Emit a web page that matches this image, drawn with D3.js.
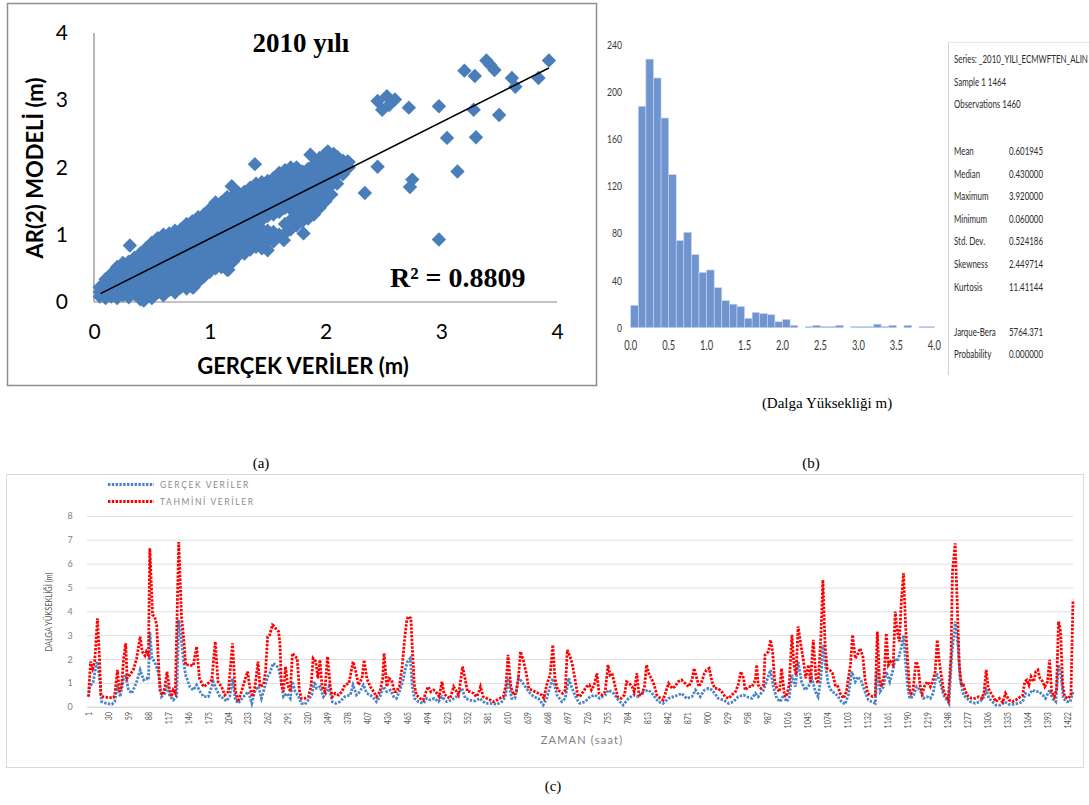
<!DOCTYPE html>
<html>
<head>
<meta charset="utf-8">
<script src="https://cdn.jsdelivr.net/npm/d3@7"></script>
<style>
  body { margin: 0; background: #ffffff; }
  svg { display: block; }
</style>
</head>
<body>
<svg id="fig" width="1089" height="805"></svg>
<script>
// ---------------- (a) scatter: observed vs AR(2) model ----------------
const scatterTicks = [0, 1, 2, 3, 4];
// dense part of the cloud, one column of model values per observed value
const cloudX = [0.05,0.1,0.15,0.2,0.25,0.3,0.35,0.4,0.45,0.5,0.55,0.6,0.65,0.7,0.75,0.8,0.85,0.9,0.95,1.0,
  1.05,1.1,1.15,1.2,1.25,1.3,1.35,1.4,1.45,1.5,1.55,1.6,1.65,1.7,1.75,1.8,1.85,1.9,1.95,2.0,2.05,2.1,2.15,2.2];
const cloudY = [
  [0.08,0.15,0.22],
  [0.06,0.15,0.25,0.34],
  [0.08,0.2,0.32,0.42],
  [0.06,0.18,0.3,0.42,0.52],
  [0.1,0.24,0.38,0.5,0.58],
  [0.07,0.2,0.34,0.47,0.6],
  [0.12,0.26,0.4,0.54,0.66],
  [0.04,0.18,0.32,0.46,0.6,0.72],
  [0.1,0.25,0.4,0.55,0.7,0.8],
  [0.06,0.2,0.34,0.48,0.62,0.76,0.88],
  [0.14,0.28,0.42,0.56,0.7,0.84,0.95],
  [0.1,0.24,0.38,0.52,0.66,0.8,0.94,1.0],
  [0.18,0.32,0.46,0.6,0.74,0.88,1.02],
  [0.14,0.28,0.42,0.56,0.7,0.84,0.98,1.06],
  [0.22,0.36,0.5,0.64,0.78,0.92,1.08],
  [0.2,0.34,0.48,0.62,0.76,0.9,1.04,1.16],
  [0.22,0.4,0.54,0.68,0.82,0.96,1.1,1.2],
  [0.3,0.44,0.58,0.72,0.86,1.0,1.14,1.26],
  [0.38,0.52,0.66,0.8,0.94,1.08,1.22,1.3],
  [0.45,0.6,0.74,0.88,1.02,1.16,1.3,1.38],
  [0.5,0.64,0.78,0.92,1.06,1.2,1.34,1.48],
  [0.52,0.68,0.82,0.96,1.1,1.24,1.38,1.48],
  [0.48,0.62,0.76,0.9,1.04,1.18,1.32,1.46,1.56],
  [0.6,0.74,0.88,1.02,1.16,1.3,1.44,1.58],
  [0.7,0.84,0.98,1.12,1.26,1.4,1.54,1.62],
  [0.72,0.86,1.0,1.14,1.28,1.42,1.56,1.64],
  [0.78,0.92,1.06,1.2,1.34,1.48,1.62,1.7],
  [0.82,0.96,1.1,1.24,1.38,1.52,1.66,1.76],
  [0.8,0.94,1.08,1.22,1.36,1.5,1.64,1.78],
  [0.92,1.06,1.28,1.42,1.56,1.7,1.8],
  [0.9,1.04,1.3,1.46,1.6,1.74,1.84],
  [1.0,1.34,1.5,1.64,1.78,1.92],
  [1.02,1.16,1.4,1.54,1.68,1.82,1.96],
  [1.08,1.22,1.38,1.52,1.66,1.8,1.94,2.0],
  [1.14,1.3,1.46,1.6,1.74,1.88,2.0],
  [1.2,1.36,1.52,1.66,1.8,1.94],
  [1.24,1.4,1.56,1.7,1.84,1.98],
  [1.3,1.46,1.62,1.76,1.9,2.04],
  [1.4,1.56,1.72,1.86,2.0,2.14],
  [1.5,1.64,1.78,1.92,2.06,2.2],
  [1.6,1.74,1.88,2.02,2.16],
  [1.76,1.9,2.04,2.14],
  [1.9,2.02,2.1],
  [2.0,2.08]
];
// scattered points outside the dense cloud
const outlierX = [3.93,3.39,3.42,3.46,3.20,3.29,3.61,3.64,3.84,2.45,2.53,2.60,2.55,2.49,2.72,2.98,3.28,3.50,3.05,3.30,
  3.14,2.45,2.75,2.73,2.34,2.98,1.39,1.87,2.02,2.07,2.10,2.19,2.00,0.31,1.19,1.81,1.64,1.50,1.16,0.86,0.43];
const outlierY = [3.59,3.59,3.53,3.45,3.44,3.36,3.33,3.20,3.33,2.99,3.06,3.01,2.93,2.86,2.89,2.91,2.86,2.78,2.44,2.45,
  1.94,2.01,1.82,1.71,1.62,0.93,2.05,2.19,2.24,2.20,2.16,2.09,1.52,0.84,1.72,1.02,0.92,0.77,0.48,0.22,0.02];
const trendSlope = 0.866, trendIntercept = 0.076, trendFrom = 0.056, trendTo = 3.93;
const r2Text = "R² = 0.8809";

// ---------------- (b) histogram ----------------
const binStart = [0.0,0.1,0.2,0.3,0.4,0.5,0.6,0.7,0.8,0.9,1.0,1.1,1.2,1.3,1.4,1.5,1.6,1.7,1.8,1.9,
  2.0,2.1,2.2,2.3,2.4,2.5,2.6,2.7,2.8,2.9,3.0,3.1,3.2,3.3,3.4,3.5,3.6,3.7,3.8,3.9];
const binCount = [19,188,228,212,178,130,74,81,62,47,49,34,23,20,18,8,13,12,11,5,
  7,2,0,1,2,1,1,2,0,1,1,1,3,1,2,0,2,0,1,1];
const histXTicks = [0.0,0.5,1.0,1.5,2.0,2.5,3.0,3.5,4.0];
const histYTicks = [0,40,80,120,160,200,240];
const statHead = ["Series: _2010_YILI_ECMWFTEN_ALIN", "Sample 1 1464", "Observations 1460"];
const statNames = ["Mean","Median","Maximum","Minimum","Std. Dev.","Skewness","Kurtosis","","Jarque-Bera","Probability"];
const statValues = ["0.601945","0.430000","3.920000","0.060000","0.524186","2.449714","11.41144","","5764.371","0.000000"];

// ---------------- (c) time series ----------------
const seriesYTicks = [0,1,2,3,4,5,6,7,8];
const hourLabels = [1,30,59,88,117,146,175,204,233,262,291,320,349,378,407,436,465,494,523,552,581,610,639,668,697,
  726,755,784,813,842,871,900,929,958,987,1016,1045,1074,1103,1132,1161,1190,1219,1248,1277,1306,1335,1364,1393,1422];
const lastHour = 1430;

const gercekSaat = [1,3,8,12,14,17,20,27,35,39,43,47,52,55,59,64,71,76,81,85,88,90,93,97,102,107,112,115,119,124,129,
  132,135,139,142,148,153,158,163,168,175,182,187,192,197,201,206,210,214,218,226,233,238,243,248,252,257,261,264,269,
  273,277,280,284,289,294,297,301,306,310,315,320,325,329,332,337,342,347,350,355,360,366,373,381,385,390,395,400,405,
  410,415,419,424,429,434,439,444,448,453,457,461,464,468,471,474,480,487,492,497,503,509,514,521,528,535,543,548,555,
  562,569,577,584,594,601,606,610,615,620,625,628,635,640,647,654,661,666,671,675,681,688,693,698,702,707,712,714,722,
  729,736,743,751,756,763,770,777,785,792,799,806,814,821,828,835,843,850,857,862,869,877,882,889,895,901,906,910,915,
  923,930,937,944,952,956,964,969,973,981,985,991,995,1000,1005,1010,1014,1018,1022,1027,1031,1036,1041,1046,1051,1056,
  1060,1064,1067,1070,1075,1080,1085,1089,1094,1099,1104,1109,1114,1118,1123,1128,1133,1138,1143,1146,1150,1155,1159,
  1164,1168,1172,1175,1178,1181,1184,1187,1190,1193,1198,1203,1208,1213,1218,1223,1227,1232,1237,1242,1247,1250,1254,
  1259,1263,1266,1271,1276,1281,1288,1295,1301,1304,1308,1313,1318,1324,1331,1337,1343,1351,1357,1361,1366,1371,1376,
  1381,1386,1390,1396,1400,1405,1409,1413,1416,1421,1426,1430];
const gercekDeger = [0.42,0.84,1.05,1.75,1.89,1.19,0.21,0.14,0.1,0.21,0.91,0.42,1.19,1.33,0.7,0.56,1.05,1.54,1.12,1.19,1.12,
  3.15,2.03,1.89,1.47,0.42,0.56,0.91,0.46,0.28,0.42,3.64,3.0,1.89,1.33,0.84,0.7,0.91,0.63,0.42,0.42,1.05,0.7,0.42,0.35,
  0.24,0.42,1.19,0.32,0.14,0.42,0.63,0.14,0.7,0.84,0.35,0.84,1.26,1.4,1.82,1.75,1.61,1.19,0.42,0.56,0.35,1.05,0.63,0.42,
  0.14,0.1,0.28,0.49,1.05,0.77,0.84,0.42,0.63,0.84,0.21,0.14,0.21,0.42,0.49,0.91,0.49,0.63,0.91,0.56,0.49,0.35,0.21,0.42,
  0.84,0.63,0.7,0.42,0.35,0.7,1.05,1.61,1.89,2.03,0.84,0.35,0.21,0.14,0.35,0.28,0.35,0.21,0.42,0.21,0.28,0.42,0.77,0.35,
  0.28,0.24,0.35,0.14,0.14,0.1,0.21,0.42,1.19,0.35,0.35,1.19,1.12,0.84,0.63,0.42,0.35,0.07,0.35,0.84,1.19,0.49,0.21,0.35,
  1.19,0.84,0.49,0.21,0.14,0.21,0.42,0.49,0.35,0.49,0.7,0.56,0.28,0.07,0.35,0.49,0.42,0.63,0.7,0.49,0.21,0.14,0.35,0.42,
  0.49,0.56,0.35,0.42,0.7,0.42,0.7,0.77,0.7,0.56,0.35,0.28,0.14,0.21,0.42,0.49,0.42,0.35,0.56,0.42,0.7,1.05,1.54,0.84,0.35,
  0.21,0.49,0.21,0.35,1.33,0.84,1.89,1.05,0.7,0.84,1.19,0.63,0.42,1.19,2.59,1.89,0.91,0.63,0.56,0.42,0.21,0.1,0.49,1.47,
  1.05,1.26,1.05,0.63,0.28,0.21,0.14,1.61,0.63,0.84,1.47,1.05,1.47,2.03,1.89,2.17,2.5,3.0,1.9,0.8,0.35,0.42,0.84,0.7,0.35,
  0.42,0.35,0.56,1.4,1.05,0.49,0.28,0.14,2.17,3.57,2.59,1.19,0.49,0.35,0.21,0.14,0.21,0.42,0.7,0.35,0.21,0.07,0.07,0.21,
  0.1,0.1,0.14,0.21,0.56,0.49,0.7,0.63,0.63,0.49,0.35,0.7,0.35,0.21,1.75,1.19,0.35,0.21,0.21,0.63];

const tahminSaat = [1,4,7,10,14,17,19,22,30,37,39,43,46,49,52,55,57,61,66,71,76,79,83,85,88,90,94,97,100,102,105,109,112,
  115,118,121,124,127,132,136,140,142,148,153,158,162,168,172,180,185,189,194,199,204,210,214,218,223,228,232,235,239,
  243,247,250,255,258,261,264,268,271,274,277,279,281,284,287,290,294,297,301,304,307,310,315,320,324,327,331,334,337,
  340,344,348,352,355,359,364,369,373,379,385,389,393,398,401,405,410,415,419,424,428,430,434,437,441,445,448,452,456,
  460,463,465,469,471,474,477,482,487,491,494,498,502,505,510,514,517,521,526,531,534,538,541,544,548,551,555,560,564,
  567,570,574,579,584,589,594,598,603,607,610,614,618,622,625,628,632,636,640,644,649,654,659,662,666,671,675,678,682,
  686,689,693,696,700,703,707,711,714,719,724,728,731,735,739,742,746,751,755,758,761,765,769,774,779,782,786,790,793,
  797,800,804,808,811,815,818,822,826,831,835,839,843,848,852,857,862,867,872,877,880,884,887,891,895,898,902,906,910,
  915,920,925,930,935,940,944,948,952,954,959,964,969,971,973,977,981,983,988,991,994,997,1000,1004,1007,1011,1014,1018,
  1022,1025,1028,1031,1035,1039,1042,1046,1049,1053,1057,1060,1064,1067,1070,1073,1077,1081,1085,1088,1092,1097,1101,
  1104,1107,1110,1114,1117,1121,1125,1128,1132,1135,1139,1143,1146,1149,1152,1156,1159,1162,1165,1169,1172,1175,1178,
  1181,1184,1187,1190,1193,1195,1198,1202,1205,1208,1211,1215,1219,1223,1226,1230,1233,1236,1238,1242,1245,1249,1253,
  1255,1259,1262,1265,1268,1271,1274,1278,1283,1288,1293,1298,1301,1304,1307,1311,1314,1318,1323,1328,1332,1337,1342,
  1347,1352,1357,1360,1363,1366,1369,1373,1376,1379,1382,1386,1389,1393,1396,1399,1403,1406,1409,1412,1415,1418,1423,
  1427,1430];
const tahminDeger = [0.42,1.89,1.6,1.89,3.7,2.0,0.49,0.42,0.38,0.38,0.46,1.54,0.63,0.84,2.03,2.66,1.19,1.33,1.54,2.03,2.94,
  2.31,2.14,2.31,2.17,6.64,3.85,3.78,3.43,2.17,0.63,0.49,0.84,1.47,0.84,0.42,0.7,0.56,6.9,3.78,2.59,1.75,1.75,1.72,2.52,
  1.19,0.84,0.91,1.12,2.73,1.05,0.84,0.49,0.63,2.66,0.7,0.21,0.63,1.12,1.47,0.84,0.42,0.91,1.89,0.84,0.91,1.47,2.94,3.01,
  3.43,3.36,3.22,3.15,2.59,0.91,0.63,1.68,0.91,0.63,2.24,2.1,2.03,0.7,0.35,0.35,0.42,0.84,2.03,1.89,1.19,1.96,0.84,0.63,
  2.1,0.84,0.42,0.56,0.49,0.63,0.91,0.98,1.89,1.47,0.91,1.19,1.96,1.19,0.84,0.63,0.42,0.63,1.19,2.24,0.84,1.19,1.12,0.63,
  0.63,0.84,1.61,2.87,3.64,3.78,3.71,2.45,0.91,0.49,0.35,0.28,0.63,0.84,0.63,0.7,0.63,0.42,1.05,0.56,0.42,0.35,0.84,0.7,
  0.49,1.05,1.68,1.12,0.63,0.63,0.56,0.42,0.56,0.84,0.42,0.35,0.28,0.21,0.28,0.35,0.42,0.91,2.17,0.84,0.49,0.63,1.19,2.31,
  1.96,1.47,0.77,0.7,0.63,0.56,0.49,0.35,0.91,1.33,2.59,1.19,0.7,0.63,0.56,0.7,2.38,2.1,1.82,1.19,0.49,0.42,0.63,0.84,0.91,
  0.7,0.91,1.4,0.56,0.49,0.63,1.75,1.33,1.4,0.91,0.42,0.35,0.49,1.05,0.98,0.84,0.63,1.4,0.49,0.49,0.84,1.75,1.33,1.19,0.91,
  0.49,0.35,0.28,0.63,0.98,0.77,0.84,1.05,1.12,0.98,0.84,1.12,1.61,1.19,0.84,1.05,1.4,1.54,1.61,1.05,0.77,0.77,0.63,0.42,
  0.35,0.49,0.63,0.91,1.47,1.19,0.7,0.84,0.84,1.12,1.75,0.91,0.77,0.91,2.17,2.31,2.8,2.31,1.05,0.77,0.63,1.61,0.49,0.42,
  0.91,3.01,1.75,1.33,3.36,2.59,1.89,1.19,1.75,1.05,2.8,1.19,0.98,2.87,5.31,2.66,1.61,1.54,1.4,0.91,0.91,0.56,0.35,0.63,
  1.19,1.75,3.01,2.03,2.17,2.45,2.1,1.19,0.56,0.49,0.42,0.49,3.15,1.19,0.84,1.33,3.08,1.75,1.89,1.75,3.99,3.15,2.73,4.5,
  5.6,3.4,1.9,0.7,0.56,0.7,1.89,1.75,0.91,0.56,0.91,1.05,0.84,1.05,1.47,2.8,1.89,1.47,0.7,0.49,0.28,2.17,5.66,6.85,4.27,
  1.75,0.91,0.91,0.63,0.42,0.35,0.35,0.42,0.35,0.63,1.54,0.77,0.56,0.42,0.21,0.35,0.18,0.56,0.28,0.21,0.28,0.38,0.49,1.05,
  1.12,0.91,1.26,1.05,1.47,1.54,1.19,1.05,0.84,1.05,1.96,0.63,0.42,0.7,3.57,3.15,0.91,0.42,0.35,0.49,4.48];

// ============================================================
const svg = d3.select("#fig");
const serif = "'Liberation Serif','Times New Roman',serif";
const sans = "Lato,'Liberation Sans',sans-serif";

// text squeezed horizontally, for the condensed labels
function narrowText(parent, x, y, str, size, sx, opts = {}) {
  const g = parent.append("g").attr("transform", `translate(${x},${y})${opts.rotate ? ` rotate(${opts.rotate})` : ""} scale(${sx},1)`);
  return g.append("text")
    .attr("font-family", opts.family || sans)
    .attr("font-size", size)
    .attr("fill", opts.fill || "#333")
    .attr("text-anchor", opts.anchor || "start")
    .attr("dy", opts.dy || null)
    .text(str);
}

// ---------------- panel (a) ----------------
const pa = svg.append("g");
pa.append("rect").attr("x", 7.5).attr("y", 3.5).attr("width", 589).attr("height", 382)
  .attr("fill", "none").attr("stroke", "#8e8e8e").attr("stroke-width", 1.5);

const xA = d3.scaleLinear().domain([0, 4]).range([94, 557]);
const yA = d3.scaleLinear().domain([0, 4]).range([302, 33]);

pa.append("line").attr("x1", xA(0)).attr("x2", xA(0)).attr("y1", yA(0)).attr("y2", yA(4))
  .attr("stroke", "#868686").attr("stroke-width", 1.2);
pa.append("line").attr("x1", xA(0)).attr("x2", xA(4)).attr("y1", yA(0)).attr("y2", yA(0))
  .attr("stroke", "#868686").attr("stroke-width", 1.2);

const axA = pa.append("g").attr("transform", `translate(${xA(0)},0)`)
  .call(d3.axisLeft(yA).tickValues(scatterTicks).tickFormat(d3.format("d")).tickSize(0).tickPadding(26));
const axB = pa.append("g").attr("transform", `translate(0,${yA(0)})`)
  .call(d3.axisBottom(xA).tickValues(scatterTicks).tickFormat(d3.format("d")).tickSize(0).tickPadding(22));
[axA, axB].forEach(a => {
  a.select(".domain").remove();
  a.selectAll("text").attr("font-family", sans).attr("font-size", 21).attr("fill", "#000");
});

// markers
const diamond = d3.symbol().type(d3.symbolSquare).size(104);
const cloudPts = [];
cloudX.forEach((x, i) => cloudY[i].forEach(y => cloudPts.push([x, y])));
const outPts = d3.zip(outlierX, outlierY);
pa.append("g").selectAll("path").data(cloudPts.concat(outPts)).join("path")
  .attr("d", diamond)
  .attr("transform", d => `translate(${xA(d[0])},${yA(d[1])}) rotate(45)`)
  .attr("fill", "#4a7ebb");

// trend line
pa.append("line")
  .attr("x1", xA(trendFrom)).attr("y1", yA(trendIntercept + trendSlope * trendFrom))
  .attr("x2", xA(trendTo)).attr("y2", yA(trendIntercept + trendSlope * trendTo))
  .attr("stroke", "#000").attr("stroke-width", 1.6);

pa.append("text").attr("x", 301).attr("y", 52).attr("text-anchor", "middle")
  .attr("font-family", serif).attr("font-weight", "bold").attr("font-size", 27).text("2010 yılı");
pa.append("text").attr("x", 390).attr("y", 287)
  .attr("font-family", serif).attr("font-weight", "bold").attr("font-size", 28).text(r2Text);
pa.append("text").attr("transform", "translate(43,168) rotate(-90)").attr("text-anchor", "middle")
  .attr("font-family", sans).attr("font-weight", "bold").attr("font-size", 22).text("AR(2) MODELİ (m)");
pa.append("text").attr("x", 303).attr("y", 374).attr("text-anchor", "middle")
  .attr("font-family", sans).attr("font-weight", "bold").attr("font-size", 22).text("GERÇEK VERİLER (m)");

// ---------------- panel (b) ----------------
const pb = svg.append("g");
const xH = d3.scaleLinear().domain([0, 4]).range([630.7, 934.3]);
const yH = d3.scaleLinear().domain([0, 240]).range([327.7, 45]);

pb.selectAll("rect.bin").data(d3.zip(binStart, binCount).filter(d => d[1] > 0)).join("rect")
  .attr("class", "bin")
  .attr("x", d => xH(d[0]))
  .attr("width", d => xH(d[0] + 0.1) - xH(d[0]))
  .attr("y", d => yH(d[1]))
  .attr("height", d => yH(0) - yH(d[1]))
  .attr("fill", "#6f94cf").attr("stroke", "#c9d6ee").attr("stroke-width", 0.6);

histYTicks.forEach(v => narrowText(pb, 622, yH(v) + 4, String(v), 12, 0.72, { anchor: "end", fill: "#3a3a3a" }));
histXTicks.forEach(v => narrowText(pb, xH(v), 350, v.toFixed(1), 13, 0.72, { anchor: "middle", fill: "#3a3a3a" }));

// statistics box
pb.append("line").attr("x1", 948.5).attr("x2", 948.5).attr("y1", 42).attr("y2", 375).attr("stroke", "#d0d0d0");
pb.append("line").attr("x1", 948.5).attr("x2", 1089).attr("y1", 42.5).attr("y2", 42.5).attr("stroke", "#e6e6e6");
statHead.forEach((s, i) => narrowText(pb, 954, 63 + i * 22.7, s, 11, 0.72, { fill: "#2b2b2b" }));
statNames.forEach((s, i) => {
  if (!s) return;
  const y = 155 + i * 22.6;
  narrowText(pb, 954, y, s, 11, 0.72, { fill: "#2b2b2b" });
  narrowText(pb, 1009, y, statValues[i], 11, 0.72, { fill: "#2b2b2b" });
});

svg.append("text").attr("x", 827).attr("y", 408).attr("text-anchor", "middle")
  .attr("font-family", serif).attr("font-size", 15).text("(Dalga Yüksekliği m)");
svg.append("text").attr("x", 261).attr("y", 468).attr("text-anchor", "middle")
  .attr("font-family", serif).attr("font-size", 15).text("(a)");
svg.append("text").attr("x", 811).attr("y", 468).attr("text-anchor", "middle")
  .attr("font-family", serif).attr("font-size", 15).text("(b)");
svg.append("text").attr("x", 553).attr("y", 791).attr("text-anchor", "middle")
  .attr("font-family", serif).attr("font-size", 15).text("(c)");

// ---------------- panel (c) ----------------
const pc = svg.append("g");
pc.append("rect").attr("x", 6.5).attr("y", 474.5).attr("width", 1077).attr("height", 293)
  .attr("fill", "none").attr("stroke", "#d9d9d9");

const xC = d3.scaleLinear().domain([1, lastHour]).range([88.5, 1073]);
const yC = d3.scaleLinear().domain([0, 8]).range([706.7, 515.9]);

pc.selectAll("line.grid").data(seriesYTicks).join("line").attr("class", "grid")
  .attr("x1", 87).attr("x2", 1073).attr("y1", d => yC(d) + 0.5).attr("y2", d => yC(d) + 0.5)
  .attr("stroke", d => d === 0 ? "#c8c8c8" : "#dedede").attr("stroke-width", 1);

seriesYTicks.forEach(v => pc.append("text").attr("x", 70).attr("y", yC(v) + 3.5).attr("text-anchor", "middle")
  .attr("font-family", sans).attr("font-size", 9).attr("fill", "#7f7f7f").text(v));

hourLabels.forEach(h => narrowText(pc, xC(h), 712, String(h), 9.5, 0.75,
  { rotate: -90, anchor: "end", dy: "0.33em", fill: "#595959" }));

narrowText(pc, 52, 612, "DALGA YÜKSEKLİĞİ (m)", 9.5, 0.78, { rotate: -90, anchor: "middle", fill: "#595959" });
pc.append("text").attr("x", 582).attr("y", 744).attr("text-anchor", "middle")
  .attr("font-family", sans).attr("font-size", 11).attr("letter-spacing", 1.2).attr("fill", "#808080")
  .text("ZAMAN (saat)");

const lineC = d3.line().x(d => xC(d[0])).y(d => yC(d[1]));
const dash = "2.4,1.4";
pc.append("path").datum(d3.zip(gercekSaat, gercekDeger)).attr("d", lineC)
  .attr("fill", "none").attr("stroke", "#4a84c6").attr("stroke-width", 2.8).attr("stroke-dasharray", dash);
pc.append("path").datum(d3.zip(tahminSaat, tahminDeger)).attr("d", lineC)
  .attr("fill", "none").attr("stroke", "#ff0000").attr("stroke-width", 2.8).attr("stroke-dasharray", dash);

// legend
const legend = [
  { name: "GERÇEK VERİLER", color: "#4a84c6", y: 484.5 },
  { name: "TAHMİNİ VERİLER", color: "#ff0000", y: 501.5 }
];
legend.forEach(l => {
  pc.append("line").attr("x1", 108).attr("x2", 154).attr("y1", l.y).attr("y2", l.y)
    .attr("stroke", l.color).attr("stroke-width", 2.8).attr("stroke-dasharray", dash);
  pc.append("text").attr("x", 160).attr("y", l.y + 3.2)
    .attr("font-family", sans).attr("font-size", 8.5).attr("letter-spacing", 1.6).attr("fill", "#8c8c8c")
    .text(l.name);
});
</script>
</body>
</html>
